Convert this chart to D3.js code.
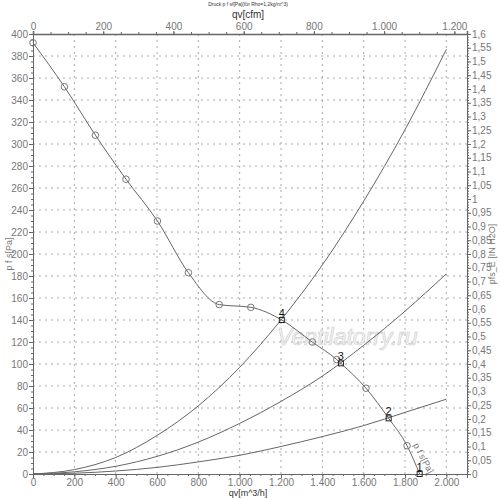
<!DOCTYPE html>
<html>
<head>
<meta charset="utf-8">
<script src="https://cdn.jsdelivr.net/npm/d3@7"></script>
<style>
  body { margin: 0; background: #fff; }
  svg { font-family: "Liberation Sans", Arial, sans-serif; }
  .axis path, .axis line { stroke: #666; }
  .axis text { fill: #777; font-size: 10px; }
</style>
</head>
<body>
<script>
// fan curve (measured points, circles)
var fanQ = [0, 152, 302, 450, 602, 752, 901, 1054, 1351, 1470, 1611, 1810];
var fanP = [392, 352, 308, 268, 230, 183, 154, 151.5, 120, 104, 78, 25.7];

// operating points 1..4
var opLabel = ["4", "3", "2", "1"];
var opQ = [1204, 1490, 1721, 1871];
var opP = [140, 100.6, 50.6, 0];

// system curves
var sysQ  = [0, 200, 400, 600, 800, 1000, 1200, 1400, 1600, 1800, 2000];
var sysA  = [0, 4, 15, 35, 62, 97, 140, 190, 248, 313, 386];
var sysB  = [0, 2, 7, 16, 29, 46, 66, 89, 117, 148, 182];
var sysC  = [0, 0.7, 2.7, 6, 11, 17, 25, 34, 44, 56, 68];

// tick labels
var bottomTicks = [0, 200, 400, 600, 800, 1000, 1200, 1400, 1600, 1800, 2000];
var topTicks = [0, 200, 400, 600, 800, 1000, 1200];
var leftTicks = [0, 20, 40, 60, 80, 100, 120, 140, 160, 180, 200, 220, 240, 260, 280, 300, 320, 340, 360, 380, 400];
var rightTicks = [0, 0.05, 0.1, 0.15, 0.2, 0.25, 0.3, 0.35, 0.4, 0.45, 0.5, 0.55, 0.6, 0.65, 0.7, 0.75, 0.8,
                  0.85, 0.9, 0.95, 1, 1.05, 1.1, 1.15, 1.2, 1.25, 1.3, 1.35, 1.4, 1.45, 1.5, 1.55, 1.6];

var W = 500, H = 498;
var L = 33, R = 467, T = 34, B = 474;

var de = d3.formatLocale({decimal: ",", thousands: ".", grouping: [3], currency: ["", " €"]});

var svg = d3.select("body").append("svg")
    .attr("width", W)
    .attr("height", H);

var x = d3.scaleLinear().domain([0, 2100]).range([L, R]);
var xCfm = d3.scaleLinear().domain([0, 2100 / 1.699]).range([L, R]);
var y = d3.scaleLinear().domain([0, 400]).range([B, T]);
var yIn = d3.scaleLinear().domain([0, 1.6]).range([B, T]);

//grid
svg.append("g").selectAll("line")
    .data(bottomTicks.slice(1))
    .enter().append("line")
    .attr("x1", function(d) {return x(d)}).attr("x2", function(d) {return x(d)})
    .attr("y1", T).attr("y2", B)
    .attr("stroke", "#aaa").attr("stroke-dasharray", "2,4");
svg.append("g").selectAll("line")
    .data(leftTicks.slice(1, -1))
    .enter().append("line")
    .attr("y1", function(d) {return y(d)}).attr("y2", function(d) {return y(d)})
    .attr("x1", L).attr("x2", R)
    .attr("stroke", "#aaa").attr("stroke-dasharray", "2,4");

//minor ticks
svg.append("g").attr("class", "axis").attr("transform", "translate(0," + B + ")")
    .call(d3.axisBottom(x).tickValues(d3.range(0, 2101, 50)).tickSize(2).tickFormat(""));
svg.append("g").attr("class", "axis").attr("transform", "translate(0," + T + ")")
    .call(d3.axisTop(xCfm).tickValues(d3.range(0, 1236, 50)).tickSize(2).tickFormat(""));
svg.append("g").attr("class", "axis").attr("transform", "translate(" + L + ",0)")
    .call(d3.axisLeft(y).tickValues(d3.range(0, 401, 5)).tickSize(2).tickFormat(""));
svg.append("g").attr("class", "axis").attr("transform", "translate(" + R + ",0)")
    .call(d3.axisRight(yIn).tickValues(d3.range(0, 1.605, 0.01)).tickSize(2).tickFormat(""));

//major axes
var ax = svg.append("g").attr("class", "axis").attr("transform", "translate(0," + B + ")")
    .call(d3.axisBottom(x).tickValues(bottomTicks).tickSize(4).tickPadding(1).tickFormat(de.format(",d")));
ax.selectAll("text").attr("fill", "#555");
var at = svg.append("g").attr("class", "axis").attr("transform", "translate(0," + T + ")")
    .call(d3.axisTop(xCfm).tickValues(topTicks).tickSize(3).tickPadding(1).tickFormat(de.format(",d")));
at.selectAll("text").attr("fill", "#333");
at.select(".domain").attr("stroke", "#555").attr("stroke-width", 1.5);
svg.append("g").attr("class", "axis").attr("transform", "translate(" + L + ",0)")
    .call(d3.axisLeft(y).tickValues(leftTicks).tickSize(4).tickPadding(1));
svg.append("g").attr("class", "axis").attr("transform", "translate(" + R + ",0)")
    .call(d3.axisRight(yIn).tickValues(rightTicks).tickSize(4).tickPadding(1).tickFormat(de.format(".2~f")));
svg.selectAll(".axis text").style("font-size", "10px");

//watermark
svg.append("text")
    .attr("x", 277).attr("y", 345)
    .attr("font-size", 23).attr("font-style", "italic")
    .attr("fill", "#f4f4f4").attr("stroke", "#ccc").attr("stroke-width", 0.6)
    .text("Ventilatorry.ru");

//system curves
var sysLine = d3.line()
    .x(function(d) {return x(d[0])})
    .y(function(d) {return y(d[1])})
    .curve(d3.curveMonotoneX);
[sysA, sysB, sysC].forEach(function(s) {
    svg.append("path")
        .datum(sysQ.map(function(q, i) {return [q, s[i]]}))
        .attr("d", sysLine)
        .attr("fill", "none").attr("stroke", "#666").attr("stroke-width", 1);
});

//fan curve
var fanPts = fanQ.map(function(q, i) {return [q, fanP[i]]})
    .concat(opQ.map(function(q, i) {return [q, opP[i]]}))
    .sort(function(a, b) {return a[0] - b[0]});
svg.append("path")
    .datum(fanPts)
    .attr("d", d3.line()
        .x(function(d) {return x(d[0])})
        .y(function(d) {return y(d[1])})
        .curve(d3.curveMonotoneX))
    .attr("fill", "none").attr("stroke", "#666").attr("stroke-width", 1);

svg.append("g").selectAll("circle")
    .data(fanQ)
    .enter().append("circle")
    .attr("cx", function(d) {return x(d)})
    .attr("cy", function(d, i) {return y(fanP[i])})
    .attr("r", 3.3)
    .attr("fill", "none").attr("stroke", "#777");

//operating points
svg.append("g").selectAll("rect")
    .data(opQ)
    .enter().append("rect")
    .attr("x", function(d) {return x(d) - 2.5})
    .attr("y", function(d, i) {return y(opP[i]) - 2.5})
    .attr("width", 5).attr("height", 5)
    .attr("fill", "none").attr("stroke", "#222");
svg.append("g").selectAll("text")
    .data(opLabel)
    .enter().append("text")
    .attr("x", function(d, i) {return x(opQ[i])})
    .attr("y", function(d, i) {return y(opP[i]) - 3})
    .attr("text-anchor", "middle")
    .attr("font-size", 11).attr("fill", "#111")
    .text(function(d) {return d});

svg.append("text")
    .attr("transform", "translate(413,445) rotate(62)")
    .attr("font-size", 9).attr("fill", "#777")
    .text("p f s[Pa]");

//titles
svg.append("text").attr("x", 248).attr("y", 6).attr("text-anchor", "middle")
    .attr("font-size", 5).attr("fill", "#333")
    .text("Druck p f sf[Pa](für Rho=1,2kg/m^3)");
svg.append("text").attr("x", 248).attr("y", 18).attr("text-anchor", "middle")
    .attr("font-size", 10).attr("fill", "#333")
    .text("qv[cfm]");
svg.append("text").attr("x", 248).attr("y", 496).attr("text-anchor", "middle")
    .attr("font-size", 9).attr("fill", "#333")
    .text("qv[m^3/h]");
svg.append("text").attr("transform", "translate(12," + ((T + B) / 2) + ") rotate(-90)")
    .attr("text-anchor", "middle").attr("font-size", 9).attr("fill", "#777")
    .text("p f s[Pa]");
svg.append("text").attr("transform", "translate(495," + ((T + B) / 2) + ") rotate(-90)")
    .attr("text-anchor", "middle").attr("font-size", 9).attr("fill", "#777")
    .text("pfs_E [IN H2O]");
</script>
</body>
</html>
